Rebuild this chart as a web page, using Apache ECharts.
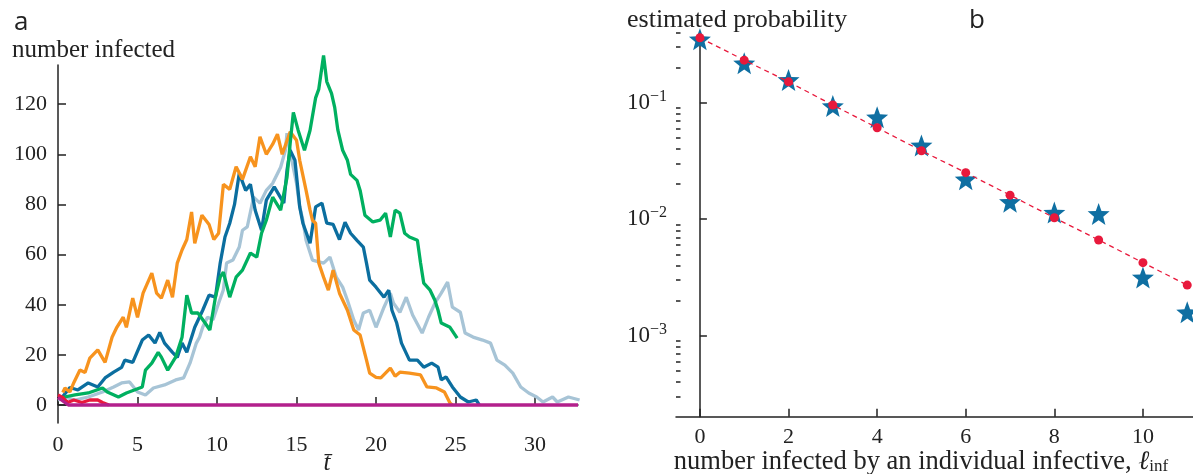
<!DOCTYPE html>
<html>
<head>
<meta charset="utf-8">
<script src="https://cdn.jsdelivr.net/npm/echarts@6/dist/echarts.min.js"></script>
<style>
html,body{margin:0;padding:0;background:#fff;}
#c{width:1193px;height:474px;}
</style>
</head>
<body>
<div id="c"></div>
<script>
// ---------- panel a: simulated epidemic runs [t, number infected] ----------
const orangeRun = [[0.3,5],[0.44,6.8],[0.75,5.2],[1.0,9],[1.38,14],[1.7,13],[2.0,18.7],[2.5,22],[2.96,17],[3.4,27],[3.7,31],[4.1,35],[4.3,31],[4.7,42.6],[5.0,35],[5.35,44.6],[5.9,52.6],[6.2,44.6],[6.5,42.6],[6.9,49.8],[7.2,43],[7.5,56.6],[7.8,61.8],[8.1,66],[8.4,77],[8.6,64.5],[9.05,75.7],[9.5,72],[9.8,66],[10.1,68.5],[10.4,88],[10.8,86],[11.2,95],[11.6,90],[12.1,99],[12.4,95],[12.7,107],[13.1,100],[13.5,104],[13.8,108],[14.1,100],[14.6,109],[15.0,105.6],[15.2,97.6],[15.6,85.6],[15.85,77.7],[16.0,73.7],[16.2,72.5],[16.4,56.6],[16.7,51],[17.0,45.8],[17.3,53.8],[17.7,44.6],[18.2,37.8],[18.6,29.9],[19.0,27.9],[19.4,17.9],[19.6,12.7],[20.0,11],[20.3,10.8],[20.9,14.7],[21.2,11.5],[21.5,13.1],[22.1,12.7],[22.8,12],[23.2,7.2],[23.8,6.8],[24.3,5.2],[24.65,0.8],[24.8,0]];
const blueRun = [[0.25,3],[0.75,7],[1.25,6],[1.9,8.8],[2.5,7.2],[2.96,10.8],[3.5,13.1],[4.0,15],[4.2,17.9],[4.7,17],[5.3,25.9],[5.7,27.9],[6.1,24.7],[6.4,29],[6.7,24.7],[7.2,21],[7.5,19],[7.8,24.7],[8.1,21],[8.6,31],[9.1,37.8],[9.5,43.8],[9.9,43],[10.2,56.6],[10.5,67],[10.8,72.5],[11.1,80],[11.4,92.4],[11.8,85.6],[12.1,88],[12.4,77.7],[12.8,69.7],[13.1,81.7],[13.6,87],[14.2,80.5],[14.4,93.6],[14.6,101.6],[14.9,97.6],[15.2,79],[15.4,72.5],[15.85,64.5],[16.2,79],[16.6,80.5],[16.9,72.5],[17.3,72],[17.7,66],[18.05,72.9],[18.4,68.5],[18.8,65.7],[19.2,63],[19.4,56.6],[19.6,49.8],[20.0,47],[20.5,43],[20.8,45.8],[21.0,37.8],[21.3,32.7],[21.6,24.7],[22.1,17.9],[22.6,17.9],[23.0,15.1],[23.5,16.7],[23.9,15.1],[24.1,10],[24.4,11.2],[24.8,7.2],[25.3,3.2],[25.8,1.2],[26.3,2],[26.5,0]];
const greenRun = [[0.25,3],[1.07,4],[1.9,4.8],[2.8,6.8],[3.1,5.2],[3.8,3.2],[4.3,4.8],[4.8,6],[5.3,7.2],[5.5,13.9],[5.9,16.7],[6.3,21],[6.5,19.1],[6.9,13.9],[7.4,19.1],[7.8,27],[8.1,43.8],[8.4,36.7],[8.8,36.7],[9.25,32.7],[9.55,29.9],[9.9,43],[10.2,51],[10.4,53],[10.8,43],[11.2,51],[11.6,53.8],[12.1,60.6],[12.5,59],[12.8,68.5],[13.1,73.7],[13.5,82.9],[14.0,77.7],[14.4,90.8],[14.6,104.4],[14.8,116.7],[15.1,109.6],[15.5,101.6],[15.85,109.6],[16.2,122.5],[16.4,126],[16.7,139.4],[16.9,129],[17.2,124.3],[17.4,118.7],[17.6,109.6],[17.9,101.6],[18.2,97.6],[18.4,92],[18.8,89.6],[19.0,85.6],[19.3,75.7],[19.8,73],[20.25,73.7],[20.6,76.5],[20.9,67],[21.2,77.7],[21.5,76.5],[21.8,68.5],[22.1,67],[22.6,65.7],[22.8,56.6],[23.0,48.6],[23.4,45.8],[23.7,41.8],[23.9,37.8],[24.1,32.7],[24.65,31],[25.1,26.7]];
const greyRun = [[0,2],[0.5,3],[1.07,2],[1.9,3.2],[2.8,5.2],[3.5,7.2],[4.0,8.8],[4.5,9.2],[5.0,5.2],[5.5,4],[6.0,6.8],[6.7,8],[7.4,10],[7.9,10.8],[8.3,16.7],[8.7,24.7],[8.9,27],[9.1,31],[9.4,35],[9.75,34],[10.1,40.6],[10.4,46],[10.6,56.6],[11.0,57.8],[11.4,63],[11.6,69.7],[11.9,71],[12.3,82.9],[12.7,80.5],[13.1,85.6],[13.5,88.4],[14.0,94.8],[14.3,101.6],[14.4,108.4],[14.7,97.6],[15.0,88.4],[15.2,79],[15.4,73.7],[15.6,65.7],[16.0,57.8],[16.7,56.6],[17.1,59],[17.5,51],[17.9,47],[18.2,41.8],[18.6,33.9],[18.9,29.9],[19.2,36.7],[19.6,37.8],[20.0,31],[20.5,39],[20.9,44.6],[21.1,40.6],[21.5,37],[21.9,43],[22.3,35.9],[22.9,28.7],[23.3,35],[23.7,40.6],[24.1,44.6],[24.5,49],[24.8,39],[25.3,37],[25.6,28.7],[26.1,27.1],[26.7,25.9],[27.2,24.7],[27.6,17.9],[28.1,15.9],[28.6,12.7],[29.1,7.2],[29.6,4.8],[30.1,3.2],[30.5,1.2],[31.1,3.2],[31.4,1.2],[32.1,3.2],[32.8,2]];
const redRun = [[0,4],[0.3,3],[0.6,1],[1.0,2],[1.5,1],[2.0,2],[2.5,2],[2.8,1],[3.2,0]];
const magentaRun = [[0,3],[0.65,0],[32.7,0]];
const tTicks = [0,5,10,15,20,25,30];
const infectedTicks = [0,20,40,60,80,100,120];

// ---------- panel b: offspring distribution ----------
const offspring = [0,1,2,3,4,5,6,7,8,9,10,11];
const estimatedProb = [0.35,0.218,0.157,0.0937,0.075,0.043,0.022,0.0141,0.0114,0.0111,0.00317,0.00159];
const modelProb = [0.361,0.232,0.151,0.0955,0.061,0.0387,0.0251,0.0161,0.0103,0.00664,0.00424,0.00272];
const offspringTicks = [0,2,4,6,8,10];
const probMajorTicks = [0.001,0.01,0.1];
const probMinorTicks = [3e-4,4e-4,5e-4,6e-4,7e-4,8e-4,9e-4,2e-3,3e-3,4e-3,5e-3,6e-3,7e-3,8e-3,9e-3,2e-2,3e-2,4e-2,5e-2,6e-2,7e-2,8e-2,9e-2,0.2,0.3,0.4];

const SERIF = 'Liberation Serif';
const INK = '#222';
const starPath = (function(){
  let d = '';
  for (let i = 0; i < 10; i++) {
    const r = i % 2 === 0 ? 50 : 21;
    const a = Math.PI / 2 + i * Math.PI / 5;
    const x = 50 + r * Math.cos(a), y = 50 - r * Math.sin(a);
    d += (i === 0 ? 'M' : 'L') + x.toFixed(2) + ' ' + y.toFixed(2) + ' ';
  }
  return 'path://' + d + 'Z';
})();

const axisLineStyle = {show:true, lineStyle:{color:INK, width:1.5}};
const tickStyle = (vals, len) => ({show:true, inside:true, length:len, customValues:vals, lineStyle:{color:INK, width:1.5}});
const labelStyle = (vals, margin) => ({customValues:vals, margin:margin, fontFamily:SERIF, fontSize:22, color:INK});

function run(data, color, extra) {
  return Object.assign({
    type:'line', xAxisIndex:0, yAxisIndex:0, data:data, showSymbol:false, symbol:'none',
    lineStyle:{color:color, width:3.3}, clip:false, animation:false, z:2
  }, extra || {});
}

const titleFont = (family, size) => ({fontFamily:family, fontSize:size, fontWeight:'normal', color:INK});

const chart = echarts.init(document.getElementById('c'), null, {renderer:'canvas'});
chart.setOption({
  animation:false,
  backgroundColor:'#fff',
  title:[
    {text:'a', left:14, top:10, padding:0, textStyle:titleFont('Open Sans', 26)},
    {text:'number infected', left:12, top:38, padding:0, textStyle:titleFont(SERIF, 25)},
    {text:'estimated probability', left:627, top:7, padding:0, textStyle:titleFont(SERIF, 26)},
    {text:'b', left:969, top:8, padding:0, textStyle:titleFont('Open Sans', 26)}
  ],
  grid:[
    {left:58, top:65, width:520, height:358, containLabel:false, outerBoundsMode:'none'},
    {left:676, top:32, width:517, height:384.7, containLabel:false, outerBoundsMode:'none'}
  ],
  xAxis:[
    {type:'value', gridIndex:0, min:0, max:32.7, position:'bottom',
     axisLine:axisLineStyle, axisTick:tickStyle(tTicks, 8), axisLabel:labelStyle(tTicks, 11), splitLine:{show:false},
     name:'t\u0304', nameLocation:'middle', nameGap:28, nameMoveOverlap:false,
     nameTextStyle:{fontFamily:SERIF, fontStyle:'italic', fontSize:25, color:INK, padding:[0,0,0,18]}},
    {type:'value', gridIndex:1, min:-0.54, max:11.13, position:'bottom',
     axisLine:axisLineStyle, axisTick:tickStyle(offspringTicks, 8), axisLabel:labelStyle(offspringTicks, 10), splitLine:{show:false},
     name:'{n|number infected by an individual infective, }{l|\u2113}{s|inf}', nameLocation:'middle', nameGap:32, nameMoveOverlap:false,
     nameTextStyle:{padding:[0,27,0,0],
       rich:{n:{fontFamily:SERIF, fontSize:26.5, color:INK},
             l:{fontFamily:SERIF, fontStyle:'italic', fontSize:26.5, color:INK},
             s:{fontFamily:SERIF, fontSize:17, color:INK, padding:[9,0,0,0]}}}}
  ],
  yAxis:[
    {type:'value', gridIndex:0, min:-7.17, max:135.6, position:'left',
     axisLine:axisLineStyle, axisTick:tickStyle(infectedTicks, 8), axisLabel:labelStyle(infectedTicks, 11), splitLine:{show:false}},
    {type:'log', logBase:10, gridIndex:1, min:2.02e-4, max:0.4045, position:'left',
     axisLine:axisLineStyle, axisTick:tickStyle(probMajorTicks, 7), splitLine:{show:false},
     axisLabel:{customValues:probMajorTicks, margin:9,
       formatter:function(v){ return '{b|10}{s|\u2212' + Math.round(-Math.log10(v)) + '}'; },
       rich:{b:{fontFamily:SERIF, fontSize:23, color:INK},
             s:{fontFamily:SERIF, fontSize:16, color:INK, padding:[0,0,12,0]}}}},
    {type:'log', logBase:10, gridIndex:1, min:2.02e-4, max:0.4045, position:'left', offset:0,
     axisLine:{show:false}, axisTick:tickStyle(probMinorTicks, 4.5), axisLabel:{show:false}, splitLine:{show:false}}
  ],
  series:[
    run(greyRun, '#a7c4d6'),
    run(blueRun, '#0b6e9f'),
    run(orangeRun, '#f7931e'),
    run(greenRun, '#00b060'),
    run(redRun, '#e8193c'),
    run(magentaRun, '#b3208c'),
    {type:'scatter', xAxisIndex:1, yAxisIndex:1, data:offspring.map((k,i)=>[k, estimatedProb[i]]),
     symbol:starPath, symbolSize:22, itemStyle:{color:'#0f6fa2', opacity:1}, z:2, animation:false},
    {type:'line', xAxisIndex:1, yAxisIndex:1, data:offspring.map((k,i)=>[k, modelProb[i]]),
     showSymbol:false, symbol:'none', lineStyle:{color:'#e8193c', width:1.3, type:[5,4]}, z:3, animation:false},
    {type:'scatter', xAxisIndex:1, yAxisIndex:1, data:offspring.map((k,i)=>[k, modelProb[i]]),
     symbol:'circle', symbolSize:9, itemStyle:{color:'#e8193c', opacity:1}, z:4, animation:false}
  ]
});
</script>
</body>
</html>
